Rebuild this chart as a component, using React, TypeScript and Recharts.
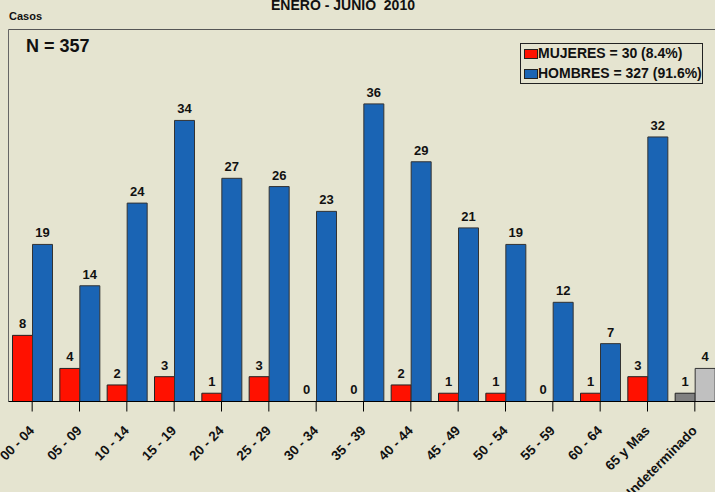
import React from "react";
import { BarChart, Bar, XAxis, YAxis, LabelList, Cell, ReferenceLine } from "recharts";

const categories = ["00 - 04", "05 - 09", "10 - 14", "15 - 19", "20 - 24", "25 - 29", "30 - 34", "35 - 39", "40 - 44", "45 - 49", "50 - 54", "55 - 59", "60 - 64", "65 y Mas", "Indeterminado"];
const mujeres = [8, 4, 2, 3, 1, 3, 0, 0, 2, 1, 1, 0, 1, 3, 1];
const hombres = [19, 14, 24, 34, 27, 26, 23, 36, 29, 21, 19, 12, 7, 32, 4];
const yTicks = [0, 10, 20, 30, 40];

const data = categories.map((c, i) => ({ cat: c, m: mujeres[i], h: hombres[i] }));

const BG = "#E5E4D0";
const RED = "#FF1100";
const BLUE = "#1A64B4";
const FONT = "'Liberation Sans', Arial, sans-serif";

const XTick = (props: any) => {
  const { x, y, payload } = props;
  return (
    <g transform={`translate(${x + 3},${y + 18})`}>
      <text x={0} y={0} textAnchor="end" transform="rotate(-45)" fontSize={13.5} fontWeight="bold" fill="#111" fontFamily={FONT}>
        {payload.value}
      </text>
    </g>
  );
};

export default function App() {
  const last = categories.length - 1;
  return (
    <div style={{ position: "fixed", left: 0, top: 0, width: 715, height: 492, overflow: "hidden", background: BG, fontFamily: FONT }}>
      <div style={{ position: "absolute", left: -52, top: 0 }}>
        <BarChart width={771} height={492} data={data} margin={{ top: 29.5, right: 0.5, left: 0, bottom: 0 }} barGap={0} barSize={20}>
          <ReferenceLine y={45} stroke="#555" strokeWidth={1} ifOverflow="extendDomain" />
          <YAxis domain={[0, 45]} ticks={yTicks} width={60.5} tickSize={10} tick={false} axisLine={{ stroke: "#666" }} tickLine={{ stroke: "#666" }} />
          <XAxis dataKey="cat" interval={0} height={90.5} tickSize={10} axisLine={{ stroke: "#000" }} tickLine={{ stroke: "#000" }} tick={<XTick />} />
          <Bar dataKey="m" fill={RED} stroke="#222" strokeWidth={1} minPointSize={0.01} isAnimationActive={false}>
            {data.map((d, i) => (
              <Cell key={i} fill={i === last ? "#808080" : RED} />
            ))}
            <LabelList dataKey="m" position="top" offset={7} fontSize={13} fontWeight="bold" fill="#111" fontFamily={FONT} />
          </Bar>
          <Bar dataKey="h" fill={BLUE} stroke="#333" strokeWidth={1} isAnimationActive={false}>
            {data.map((d, i) => (
              <Cell key={i} fill={i === last ? "#C0C0C0" : BLUE} />
            ))}
            <LabelList dataKey="h" position="top" offset={7} fontSize={13} fontWeight="bold" fill="#111" fontFamily={FONT} />
          </Bar>
        </BarChart>
      </div>
      <div style={{ position: "absolute", left: 0, top: -3, width: 686, textAlign: "center", fontSize: 14, fontWeight: "bold", whiteSpace: "pre", color: "#111" }}>
        {"ENERO - JUNIO  2010"}
      </div>
      <div style={{ position: "absolute", left: 9, top: 10, fontSize: 11, fontWeight: "bold", color: "#111" }}>Casos</div>
      <div style={{ position: "absolute", left: 26, top: 36, fontSize: 18, fontWeight: "bold", color: "#111" }}>N = 357</div>
      <div style={{ position: "absolute", left: 520, top: 43, width: 181, height: 39, border: "1px solid #222", background: BG }}>
        <div style={{ position: "absolute", left: 3, top: 5, width: 12, height: 8, background: RED, border: "1px solid #222" }} />
        <div style={{ position: "absolute", left: 17, top: 1, fontSize: 14, fontWeight: "bold", color: "#111", whiteSpace: "nowrap" }}>MUJERES = 30 (8.4%)</div>
        <div style={{ position: "absolute", left: 3, top: 25, width: 12, height: 8, background: BLUE, border: "1px solid #222" }} />
        <div style={{ position: "absolute", left: 17, top: 21, fontSize: 14, fontWeight: "bold", color: "#111", whiteSpace: "nowrap" }}>HOMBRES = 327 (91.6%)</div>
      </div>
    </div>
  );
}
